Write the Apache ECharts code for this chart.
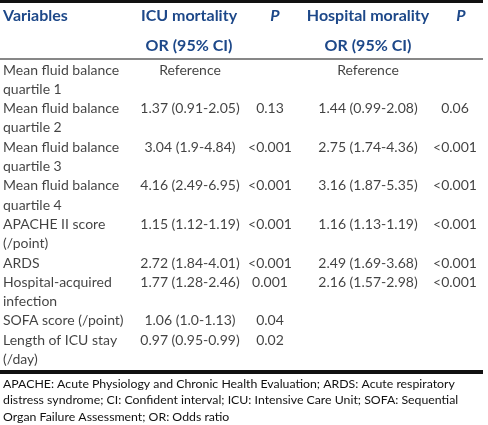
<!DOCTYPE html>
<html><head><meta charset="utf-8">
<script src="https://cdn.jsdelivr.net/npm/echarts@6/dist/echarts.min.js"></script>
<style>html,body{margin:0;padding:0;background:#fff}#c{width:488px;height:425px}</style>
</head><body><div id="c"></div>
<script>
// ---- data ----
const headers1 = ["Variables", "ICU mortality", "P", "Hospital morality", "P"];
const headers2 = ["", "OR (95% CI)", "", "OR (95% CI)", ""];
const variables = [
  ["Mean fluid balance", "quartile 1"],
  ["Mean fluid balance", "quartile 2"],
  ["Mean fluid balance", "quartile 3"],
  ["Mean fluid balance", "quartile 4"],
  ["APACHE II score", "(/point)"],
  ["ARDS"],
  ["Hospital-acquired", "infection"],
  ["SOFA score (/point)"],
  ["Length of ICU stay", "(/day)"]
];
const icuOR  = ["Reference", "1.37 (0.91-2.05)", "3.04 (1.9-4.84)", "4.16 (2.49-6.95)", "1.15 (1.12-1.19)", "2.72 (1.84-4.01)", "1.77 (1.28-2.46)", "1.06 (1.0-1.13)", "0.97 (0.95-0.99)"];
const icuP   = ["", "0.13", "<0.001", "<0.001", "<0.001", "<0.001", "0.001", "0.04", "0.02"];
const hospOR = ["Reference", "1.44 (0.99-2.08)", "2.75 (1.74-4.36)", "3.16 (1.87-5.35)", "1.16 (1.13-1.19)", "2.49 (1.69-3.68)", "2.16 (1.57-2.98)", "", ""];
const hospP  = ["", "0.06", "<0.001", "<0.001", "<0.001", "<0.001", "<0.001", "", ""];
const footnote = [
  "APACHE: Acute Physiology and Chronic Health Evaluation; ARDS: Acute respiratory",
  "distress syndrome; CI: Confident interval; ICU: Intensive Care Unit; SOFA: Sequential",
  "Organ Failure Assessment; OR: Odds ratio"
];

// ---- layout ----
const COLX = [3, 190, 270, 368, 455];
const HEADX = [3, 189, 275, 368, 461];
const FONT = "Lato, 'Open Sans', sans-serif";
const BLUE = "#1d4889";
const INK = "#111";
const LINE_H = 19.3;
const FIRST_LINE_Y = 70;

// build line slots
const cols = [[], [], [], [], []];
let slot = 0;
variables.forEach((v, i) => {
  v.forEach((txt, j) => {
    cols[0].push({ value: [COLX[0], slot], name: txt });
    if (j === 0) {
      [icuOR, icuP, hospOR, hospP].forEach((arr, c) => {
        if (arr[i]) cols[c + 1].push({ value: [COLX[c + 1], slot], name: arr[i] });
      });
    }
    slot++;
  });
});
const slots = Array.from({ length: slot }, (_, k) => String(k));

const chart = echarts.init(document.getElementById('c'), null, { renderer: 'canvas' });

const series = cols.map((data, c) => ({
  type: 'scatter',
  symbolSize: 1,
  silent: true,
  itemStyle: { color: 'rgba(0,0,0,0)' },
  data: data,
  label: {
    show: true,
    position: 'inside',
    align: c === 0 ? 'left' : 'center',
    verticalAlign: 'middle',
    formatter: p => p.name,
    fontFamily: FONT,
    fontSize: 14,
    color: INK
  }
}));

const graphic = [];
// rules
graphic.push({ type: 'rect', shape: { x: 0, y: 0, width: 483, height: 3 }, style: { fill: '#111' } });
graphic.push({ type: 'rect', shape: { x: 0, y: 58.5, width: 483, height: 1 }, style: { fill: '#111' } });
graphic.push({ type: 'rect', shape: { x: 0, y: 370, width: 483, height: 4 }, style: { fill: '#111' } });
// headers
headers1.forEach((h, c) => {
  graphic.push({
    type: 'text', x: HEADX[c], y: 16,
    style: {
      text: h, fill: BLUE, font: (c === 2 || c === 4 ? 'italic ' : '') + 'bold 16px ' + FONT,
      textAlign: c === 0 ? 'left' : 'center', textVerticalAlign: 'middle'
    }
  });
});
headers2.forEach((h, c) => {
  if (!h) return;
  graphic.push({
    type: 'text', x: HEADX[c], y: 46,
    style: { text: h, fill: BLUE, font: 'bold 16px ' + FONT, textAlign: 'center', textVerticalAlign: 'middle' }
  });
});
// footnote
footnote.forEach((t, i) => {
  graphic.push({
    type: 'text', x: 3, y: 384 + i * 16.5,
    style: { text: t, fill: INK, font: '12.3px ' + FONT, textAlign: 'left', textVerticalAlign: 'middle' }
  });
});

chart.setOption({
  animation: false,
  backgroundColor: '#fff',
  grid: { left: 0, right: 0, top: FIRST_LINE_Y - LINE_H / 2, height: LINE_H * slot },
  xAxis: { type: 'value', min: 0, max: 488, show: false },
  yAxis: { type: 'category', data: slots, inverse: true, show: false, boundaryGap: true },
  graphic: graphic,
  series: series
});
</script></body></html>
